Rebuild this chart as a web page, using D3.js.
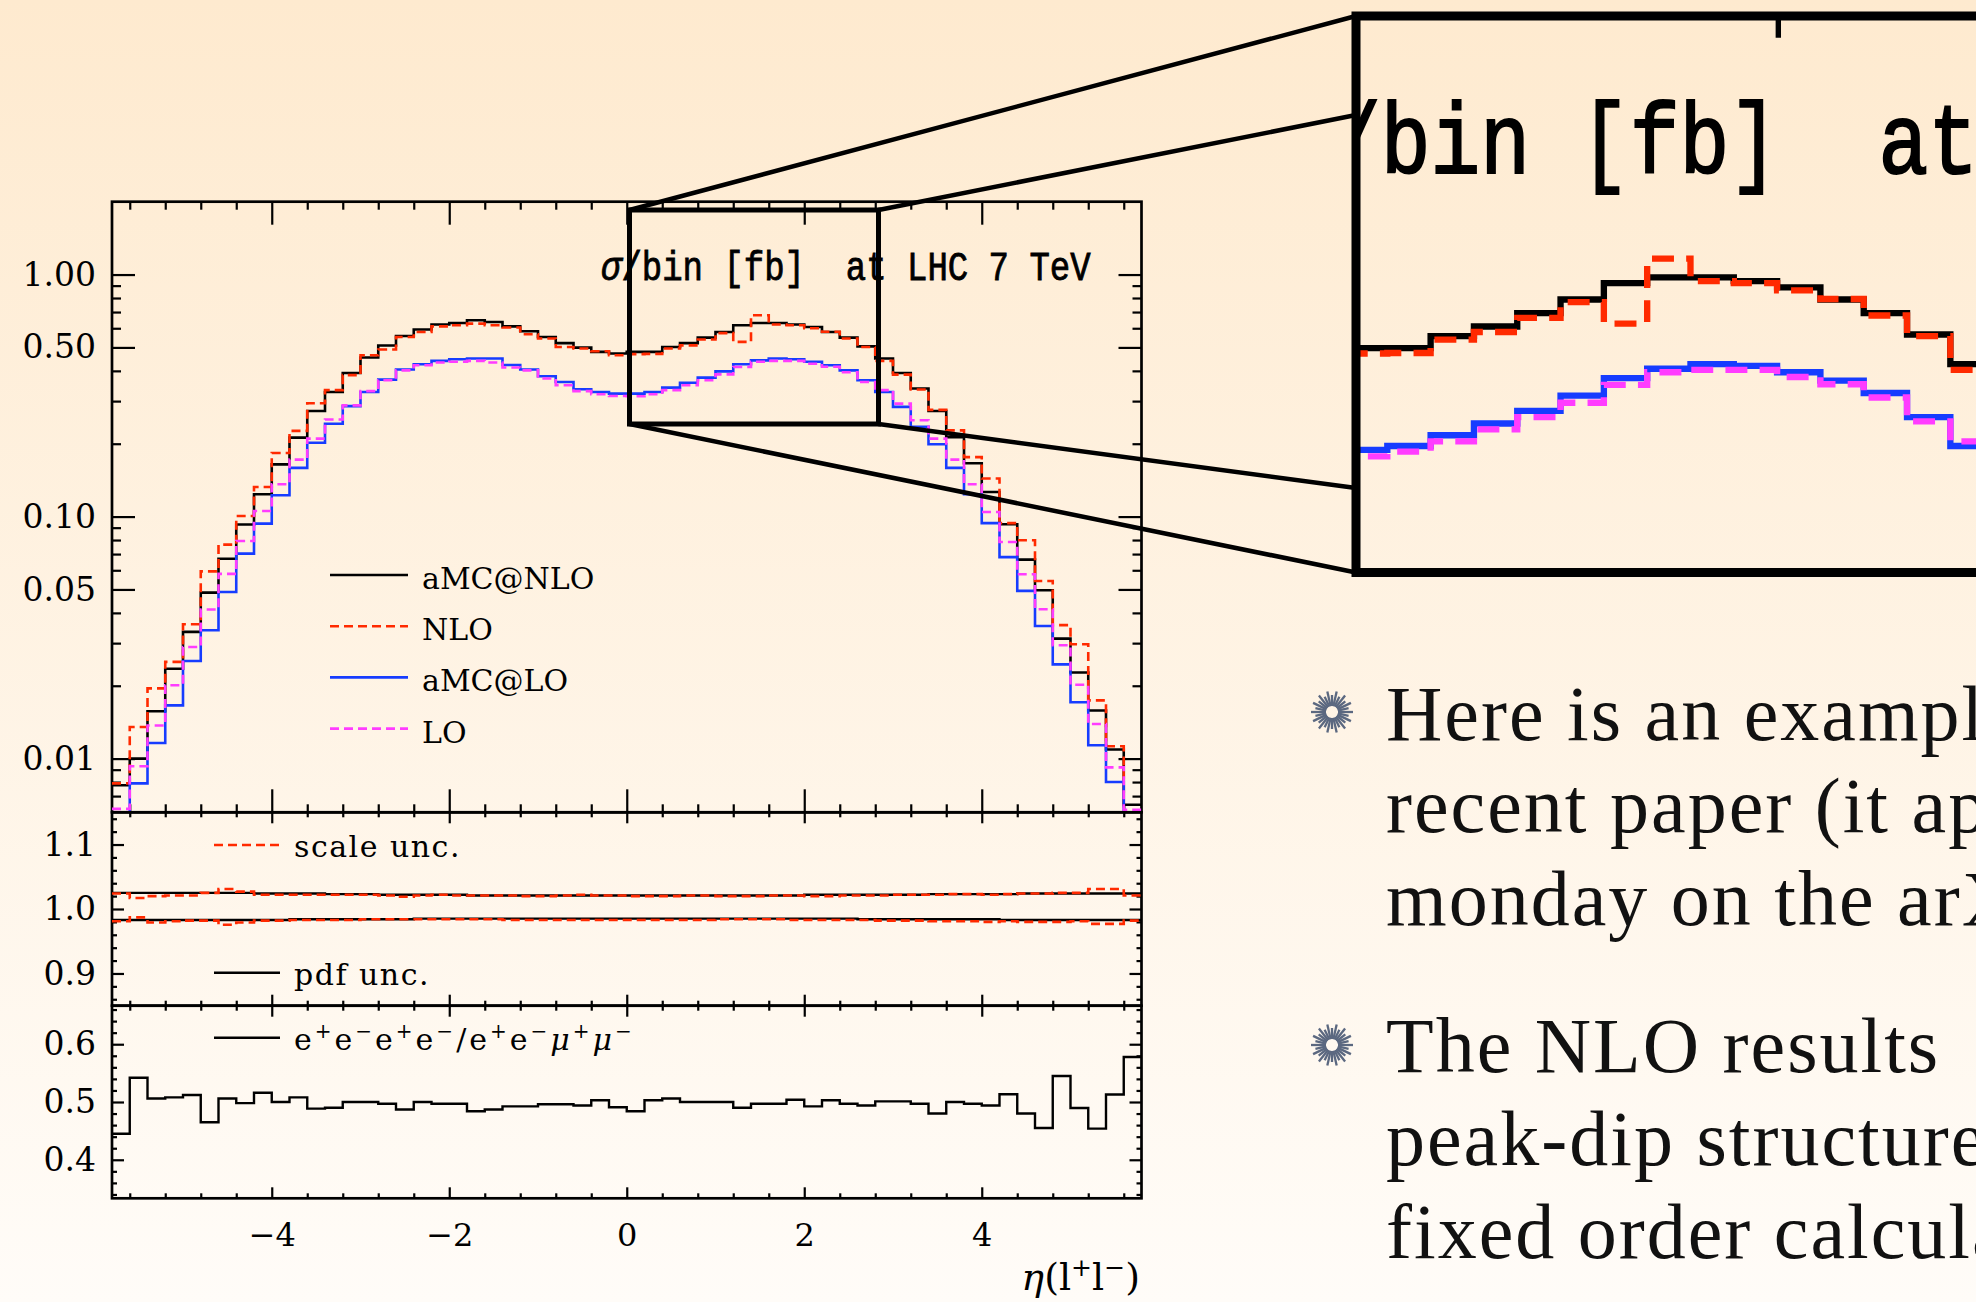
<!DOCTYPE html>
<html lang="en">
<head>
<meta charset="UTF-8">
<title>eta(l+l-) at LHC 7 TeV</title>
<script src="https://d3js.org/d3.v7.min.js"></script>
<style>
  body { margin: 0; background: #fffbf6; }
  svg { display: block; }
</style>
</head>
<body>
<svg id="svg1" width="1976" height="1302"></svg>
<script>
// ---- data ---------------------------------------------------------------
// lower edge of every eta bin, bins are 0.2 wide
const binLow = [-5.8,-5.6,-5.4,-5.2,-5.0,-4.8,-4.6,-4.4,-4.2,-4.0,
                -3.8,-3.6,-3.4,-3.2,-3.0,-2.8,-2.6,-2.4,-2.2,-2.0,
                -1.8,-1.6,-1.4,-1.2,-1.0,-0.8,-0.6,-0.4,-0.2, 0.0,
                 0.2, 0.4, 0.6, 0.8, 1.0, 1.2, 1.4, 1.6, 1.8, 2.0,
                 2.2, 2.4, 2.6, 2.8, 3.0, 3.2, 3.4, 3.6, 3.8, 4.0,
                 4.2, 4.4, 4.6, 4.8, 5.0, 5.2, 5.4, 5.6];
const binWidth = 0.2;

// sigma/bin [fb]
const amcNLO = [0.00776,0.0100,0.0157,0.0235,0.0334,0.0485,0.067,0.0927,0.1236,0.1644,
                0.212,0.273,0.327,0.392,0.454,0.509,0.557,0.593,0.622,0.631,
                0.647,0.637,0.611,0.583,0.552,0.521,0.499,0.479,0.472,0.479,
                0.479,0.502,0.521,0.549,0.579,0.617,0.631,0.631,0.622,0.607,
                0.579,0.549,0.505,0.450,0.392,0.338,0.273,0.213,0.166,0.1264,
                0.093,0.0664,0.0496,0.0313,0.0227,0.0158,0.0109,0.00645];
const nlo    = [0.0079,0.0135,0.0195,0.0251,0.0359,0.0594,0.0766,0.1005,0.1325,0.183,
                0.226,0.294,0.333,0.384,0.464,0.490,0.552,0.579,0.611,0.617,
                0.627,0.617,0.604,0.567,0.544,0.502,0.495,0.482,0.464,0.469,
                0.470,0.495,0.510,0.539,0.573,0.527,0.679,0.622,0.617,0.600,
                0.580,0.544,0.502,0.440,0.386,0.335,0.276,0.227,0.176,0.1436,
                0.094,0.0798,0.0542,0.0356,0.0297,0.0174,0.01125,0.0055];
const amcLO  = [0.0045,0.0079,0.0116,0.0166,0.0253,0.0339,0.0488,0.0703,0.0935,0.1225,
                0.159,0.202,0.242,0.286,0.327,0.368,0.405,0.426,0.440,0.447,
                0.450,0.450,0.423,0.405,0.380,0.360,0.336,0.327,0.322,0.322,
                0.327,0.341,0.357,0.375,0.398,0.426,0.442,0.450,0.447,0.436,
                0.422,0.402,0.366,0.327,0.284,0.235,0.199,0.159,0.1236,0.094,
                0.068,0.0493,0.0353,0.0245,0.0171,0.01135,0.0080,0.0045];
const lo     = [0.0062,0.0093,0.0137,0.0201,0.0289,0.0413,0.058,0.0793,0.1055,0.136,
                0.172,0.210,0.252,0.288,0.330,0.366,0.402,0.422,0.433,0.436,
                0.440,0.433,0.413,0.402,0.372,0.349,0.330,0.320,0.315,0.314,
                0.320,0.333,0.349,0.366,0.387,0.415,0.436,0.440,0.440,0.428,
                0.416,0.395,0.360,0.333,0.293,0.250,0.210,0.172,0.136,0.1045,
                0.0785,0.0578,0.0414,0.0294,0.0202,0.0139,0.0092,0.00615];

// uncertainty bands (ratio to central)
const scaleUp = [1.024,1.017,1.020,1.021,1.021,1.025,1.031,1.027,1.022,1.022,
                 1.022,1.022,1.022,1.022,1.022,1.021,1.019,1.021,1.022,1.021,
                 1.021,1.021,1.021,1.020,1.020,1.021,1.022,1.021,1.021,1.020,
                 1.020,1.020,1.021,1.021,1.020,1.020,1.020,1.021,1.021,1.020,
                 1.020,1.021,1.021,1.021,1.022,1.022,1.022,1.023,1.023,1.022,
                 1.023,1.024,1.024,1.025,1.025,1.031,1.031,1.021];
const scaleDn = [0.981,0.987,0.979,0.981,0.982,0.982,0.9755,0.979,0.982,0.982,
                 0.983,0.983,0.983,0.983,0.984,0.984,0.984,0.984,0.984,0.984,
                 0.984,0.984,0.983,0.983,0.983,0.983,0.983,0.983,0.983,0.983,
                 0.983,0.983,0.983,0.983,0.984,0.984,0.984,0.984,0.983,0.983,
                 0.983,0.983,0.983,0.982,0.982,0.982,0.981,0.981,0.981,0.980,
                 0.981,0.980,0.980,0.980,0.981,0.977,0.977,0.982];
const pdfUp   = [1.025,1.025,1.025,1.025,1.025,1.025,1.025,1.025,1.024,1.024,
                 1.024,1.024,1.023,1.023,1.023,1.022,1.022,1.022,1.022,1.022,
                 1.021,1.021,1.021,1.021,1.021,1.021,1.021,1.021,1.021,1.021,
                 1.021,1.021,1.021,1.021,1.021,1.021,1.021,1.021,1.021,1.022,
                 1.022,1.022,1.022,1.022,1.022,1.022,1.023,1.023,1.023,1.023,
                 1.023,1.024,1.024,1.024,1.024,1.024,1.024,1.024];
const pdfDn   = [0.983,0.983,0.983,0.983,0.983,0.983,0.983,0.983,0.983,0.983,
                 0.984,0.984,0.984,0.984,0.984,0.984,0.984,0.985,0.985,0.985,
                 0.985,0.985,0.985,0.985,0.985,0.985,0.985,0.985,0.985,0.985,
                 0.985,0.985,0.985,0.985,0.985,0.985,0.985,0.985,0.985,0.985,
                 0.985,0.985,0.984,0.984,0.984,0.984,0.984,0.984,0.984,0.984,
                 0.983,0.983,0.983,0.983,0.983,0.983,0.983,0.983];

// e+e-e+e- / e+e-mu+mu-
const ratioEE = [0.445,0.542,0.506,0.508,0.512,0.465,0.506,0.498,0.516,0.500,
                 0.508,0.4885,0.490,0.500,0.500,0.497,0.487,0.500,0.497,0.497,
                 0.484,0.487,0.4925,0.4925,0.496,0.496,0.494,0.503,0.491,0.484,
                 0.503,0.506,0.500,0.500,0.500,0.490,0.497,0.497,0.504,0.4925,
                 0.503,0.497,0.494,0.501,0.501,0.497,0.480,0.500,0.497,0.494,
                 0.5133,0.480,0.455,0.545,0.4896,0.454,0.513,0.578];

// tick values
const xMajor = [-4, -2, 0, 2, 4];
const xMinor = [-5.6,-5.2,-4.8,-4.4,-3.6,-3.2,-2.8,-2.4,-1.6,-1.2,-0.8,-0.4,
                0.4,0.8,1.2,1.6,2.4,2.8,3.2,3.6,4.4,4.8,5.2,5.6];
const yMainMajor = [0.01, 0.05, 0.1, 0.5, 1.0];
const yMainMinor = [0.007,0.008,0.009,0.02,0.03,0.04,0.06,0.07,0.08,0.09,
                    0.2,0.3,0.4,0.6,0.7,0.8,0.9];
const yR1Major = [0.9, 1.0, 1.1];
const yR1Minor = [0.86,0.88,0.92,0.94,0.96,0.98,1.02,1.04,1.06,1.08,1.12,1.14];
const yR2Major = [0.4, 0.5, 0.6];
const yR2Minor = [0.34,0.36,0.38,0.42,0.44,0.46,0.48,0.52,0.54,0.56,0.58,0.62,0.64,0.66];

const legendNames = ["aMC@NLO", "NLO", "aMC@LO", "LO"];
const titleText = "/bin [fb]  at LHC 7 TeV";
const eeLabel = [["e", "+"], ["e", "−"], ["e", "+"], ["e", "−"], ["/", ""],
                 ["e", "+"], ["e", "−"], ["μ", "+"], ["μ", "−"]];
const slideLines = ["Here is an example", "recent paper (it app", "monday on the arX",
                    "The NLO results", "peak-dip structure", "fixed order calcula"];

// ---- layout ---------------------------------------------------------------
const svg = d3.select("#svg1");
const plotL = 112, plotR = 1141.5;
const mainP = {top: 201.7, bottom: 812.3};
const r1P = {top: 812.3, bottom: 1005.7};
const r2P = {top: 1005.7, bottom: 1198.3};

const serif = "'DejaVu Serif', serif";
const RED = "#ff2a00", BLUE = "#163cff", PINK = "#ff3cff";

const x = d3.scaleLinear().domain([-5.8, 5.8]).range([plotL, plotR]);
const yMain = d3.scaleLog().domain([0.006, 2.0]).range([mainP.bottom, mainP.top]);
const yR1 = d3.scaleLinear().domain([0.85, 1.15]).range([r1P.bottom, r1P.top]);
const yR2 = d3.scaleLinear().domain([1/3, 2/3]).range([r2P.bottom, r2P.top]);

const seriesStyle = [
  {data: amcNLO, color: "#000", dash: null},
  {data: nlo,    color: RED,    dash: "9,5"},
  {data: amcLO,  color: BLUE,   dash: null},
  {data: lo,     color: PINK,   dash: "9,5"}
];

// ---- defs: background + clips ---------------------------------------------
const defs = svg.append("defs");
const grad = defs.append("linearGradient").attr("id", "bg")
  .attr("gradientUnits", "userSpaceOnUse").attr("x1", 0).attr("y1", 0).attr("x2", 0).attr("y2", 1302);
grad.append("stop").attr("offset", 0).attr("stop-color", "#feeacf");
grad.append("stop").attr("offset", 1).attr("stop-color", "#fffcf8");

function addClip(id, x0, y0, x1, y1) {
  defs.append("clipPath").attr("id", id).append("rect")
    .attr("x", x0).attr("y", y0).attr("width", x1 - x0).attr("height", y1 - y0);
}
addClip("clipMain", plotL, mainP.top, plotR, mainP.bottom);
addClip("clipR1", plotL, r1P.top, plotR, r1P.bottom);
addClip("clipR2", plotL, r2P.top, plotR, r2P.bottom);
addClip("clipInset", 1356, 16, 1976, 572.5);

svg.append("rect").attr("width", 1976).attr("height", 1302).attr("fill", "url(#bg)");

// ---- helpers -----------------------------------------------------------------
function stepPoints(values) {
  const pts = [];
  values.forEach((v, i) => {
    pts.push([binLow[i], v]);
    pts.push([binLow[i] + binWidth, v]);
  });
  return pts;
}

function drawStep(g, ys, values, color, dash, width) {
  const line = d3.line().x(d => x(d[0])).y(d => ys(d[1]));
  g.append("path")
    .attr("d", line(stepPoints(values)))
    .attr("fill", "none")
    .attr("stroke", color)
    .attr("stroke-width", width)
    .attr("stroke-dasharray", dash)
    .attr("stroke-linejoin", "miter");
}

function tickAxis(g, axis, tx, ty) {
  g.append("g")
    .attr("transform", `translate(${tx},${ty})`)
    .call(axis)
    .call(a => a.select(".domain").remove())
    .call(a => a.selectAll("line").attr("stroke", "#000").attr("stroke-width", 2.2))
    .attr("font-family", serif);
}

// ticks on all four sides of a panel; labels on the left only when asked
function panelTicks(g, ys, p, yMaj, yMin, yLen, xLen, fmt, withLabels) {
  const left = d3.axisLeft(ys).tickValues(yMaj).tickSize(-yLen[0]).tickPadding(16)
    .tickFormat(withLabels ? fmt : "");
  tickAxis(g, left, plotL, 0);
  tickAxis(g, d3.axisLeft(ys).tickValues(yMin).tickSize(-yLen[1]).tickFormat(""), plotL, 0);
  tickAxis(g, d3.axisRight(ys).tickValues(yMaj).tickSize(-yLen[0]).tickFormat(""), plotR, 0);
  tickAxis(g, d3.axisRight(ys).tickValues(yMin).tickSize(-yLen[1]).tickFormat(""), plotR, 0);
  tickAxis(g, d3.axisTop(x).tickValues(xMajor).tickSize(-xLen[0]).tickFormat(""), 0, p.top);
  tickAxis(g, d3.axisTop(x).tickValues(xMinor).tickSize(-xLen[1]).tickFormat(""), 0, p.top);
  tickAxis(g, d3.axisBottom(x).tickValues(xMajor).tickSize(-xLen[0]).tickFormat(""), 0, p.bottom);
  tickAxis(g, d3.axisBottom(x).tickValues(xMinor).tickSize(-xLen[1]).tickFormat(""), 0, p.bottom);
  // empty labels are dropped so nothing invisible is left around
  g.selectAll(".tick text").filter(function () { return this.textContent === ""; }).remove();
  g.selectAll(".tick text").attr("font-size", 33).attr("fill", "#000");
  g.append("rect")
    .attr("x", plotL).attr("y", p.top)
    .attr("width", plotR - plotL).attr("height", p.bottom - p.top)
    .attr("fill", "none").attr("stroke", "#000").attr("stroke-width", 2.7);
}

// ---- main panel (drawn twice: normal and magnified in the inset) --------------
function drawMainPanel(g, full) {
  panelTicks(g, yMain, mainP, yMainMajor, yMainMinor, [23, 9], [23, 8], d3.format(".2f"), full);

  // title
  const t = g.append("text")
    .attr("transform", "translate(601,280) scale(1,1.2)")
    .attr("font-family", "'Liberation Mono', monospace")
    .attr("font-size", 34)
    .attr("stroke", "#000")
    .attr("stroke-width", 0.7)
    .attr("xml:space", "preserve")
    .style("white-space", "pre");
  t.append("tspan").attr("font-style", "italic").text("σ");
  t.append("tspan").text(titleText);

  if (full) {
    const leg = g.append("g");
    seriesStyle.forEach((s, i) => {
      const ly = 575 + i * 51.2;
      leg.append("line").attr("x1", 330).attr("x2", 408).attr("y1", ly).attr("y2", ly)
        .attr("stroke", s.color).attr("stroke-width", 2.6).attr("stroke-dasharray", s.dash);
      leg.append("text").attr("x", 422).attr("y", ly + 14)
        .attr("font-family", serif).attr("font-size", 30).text(legendNames[i]);
    });
  }

  const curves = g.append("g").attr("clip-path", "url(#clipMain)");
  seriesStyle.forEach(s => drawStep(curves, yMain, s.data, s.color, s.dash, 2.6));
}

const mainG = svg.append("g");
drawMainPanel(mainG, true);

// ---- ratio panel 1: uncertainties ---------------------------------------------
const r1 = svg.append("g");
panelTicks(r1, yR1, r1P, yR1Major, yR1Minor, [12, 5], [11, 5], d3.format(".1f"), true);
const r1c = r1.append("g").attr("clip-path", "url(#clipR1)");
drawStep(r1c, yR1, pdfUp, "#000", null, 2.4);
drawStep(r1c, yR1, pdfDn, "#000", null, 2.4);
drawStep(r1c, yR1, scaleUp, RED, "9,5", 2.6);
drawStep(r1c, yR1, scaleDn, RED, "9,5", 2.6);

function smallLegend(g, ly, color, dash) {
  g.append("line").attr("x1", 214).attr("x2", 280).attr("y1", ly).attr("y2", ly)
    .attr("stroke", color).attr("stroke-width", 2.4).attr("stroke-dasharray", dash);
  return g.append("text").attr("x", 294).attr("y", ly + 12)
    .attr("font-family", serif).attr("font-size", 30).attr("letter-spacing", 1.5);
}
smallLegend(r1, 845, RED, "9,5").text("scale unc.");
smallLegend(r1, 972.7, "#000", null).text("pdf unc.");

// ---- ratio panel 2: e+e-e+e- / e+e-mu+mu- -------------------------------------
const r2 = svg.append("g");
panelTicks(r2, yR2, r2P, yR2Major, yR2Minor, [12, 5], [11, 5], d3.format(".1f"), true);
const r2c = r2.append("g").attr("clip-path", "url(#clipR2)");
drawStep(r2c, yR2, ratioEE, "#000", null, 2.4);

const eeText = smallLegend(r2, 1037.7, "#000", null).attr("letter-spacing", 3);
let raised = false;
eeLabel.forEach(([base, sup]) => {
  const b = eeText.append("tspan").attr("dy", raised ? 12 : 0).text(base);
  if (base === "μ") b.attr("font-style", "italic");
  raised = false;
  if (sup) {
    eeText.append("tspan").attr("font-size", 20).attr("dy", -12).text(sup);
    raised = true;
  }
});

// x tick labels under the last panel
r2.append("g")
  .attr("transform", `translate(0,${r2P.bottom})`)
  .call(d3.axisBottom(x).tickValues(xMajor).tickSize(0).tickPadding(25).tickFormat(d3.format("d")))
  .call(a => a.select(".domain").remove())
  .attr("font-family", serif)
  .call(a => a.selectAll("text").attr("font-size", 32).attr("fill", "#000"));

// x axis title
const xt = svg.append("text").attr("x", 1140).attr("y", 1290)
  .attr("text-anchor", "end").attr("font-family", serif).attr("font-size", 38);
xt.append("tspan").attr("font-style", "italic").text("η");
xt.append("tspan").text("(l");
xt.append("tspan").attr("font-size", 25).attr("dy", -14).text("+");
xt.append("tspan").attr("dy", 14).text("l");
xt.append("tspan").attr("font-size", 25).attr("dy", -14).text("−");
xt.append("tspan").attr("dy", 14).text(")");

// ---- zoom box, connecting lines and magnified inset ---------------------------
const box = {x0: 629.5, x1: 878.5, y0: 210, y1: 424};
const insetEdge = 1356;
const connectors = [
  [box.x0, box.y0, insetEdge, 16],
  [box.x1, box.y0, insetEdge, 115],
  [box.x0, box.y1, insetEdge, 572.5],
  [box.x1, box.y1, insetEdge, 488]
];
svg.append("rect")
  .attr("x", box.x0).attr("y", box.y0)
  .attr("width", box.x1 - box.x0).attr("height", box.y1 - box.y0)
  .attr("fill", "none").attr("stroke", "#000").attr("stroke-width", 5);
svg.selectAll("line.connector").data(connectors).join("line")
  .attr("class", "connector")
  .attr("x1", d => d[0]).attr("y1", d => d[1]).attr("x2", d => d[2]).attr("y2", d => d[3])
  .attr("stroke", "#000").attr("stroke-width", 4.5).attr("stroke-linecap", "round");

const insetK = 2.44;
const inset = svg.append("g").attr("clip-path", "url(#clipInset)");
inset.append("rect").attr("x", insetEdge).attr("y", 16).attr("width", 700).attr("height", 560)
  .attr("fill", "url(#bg)");
const insetInner = inset.append("g")
  .attr("transform", `translate(${1344 - insetK * x(0)},${-510.6}) scale(${insetK})`);
drawMainPanel(insetInner, false);
svg.append("rect")
  .attr("x", insetEdge).attr("y", 16).attr("width", 700).attr("height", 572.5 - 16)
  .attr("fill", "none").attr("stroke", "#000").attr("stroke-width", 9);

// ---- slide text ---------------------------------------------------------------------
function bullet(cx, cy) {
  const b = svg.append("g").attr("transform", `translate(${cx},${cy})`);
  d3.range(28).forEach(i => {
    const a = i / 28 * 2 * Math.PI;
    const rOut = (i % 2 === 0) ? 21 : 17;
    b.append("line")
      .attr("x1", 6 * Math.cos(a)).attr("y1", 6 * Math.sin(a))
      .attr("x2", rOut * Math.cos(a)).attr("y2", rOut * Math.sin(a))
      .attr("stroke", "#5b6880").attr("stroke-width", 2.3);
  });
}
bullet(1332, 712);
bullet(1332, 1045);

const slideY = [740, 832, 925, 1072, 1165, 1258];
svg.selectAll("text.slide").data(slideLines).join("text")
  .attr("class", "slide")
  .attr("x", 1386).attr("y", (d, i) => slideY[i])
  .attr("font-family", "'Liberation Serif', serif")
  .attr("font-size", 78)
  .attr("letter-spacing", 2)
  .attr("fill", "#111")
  .text(d => d);
</script>
</body>
</html>
